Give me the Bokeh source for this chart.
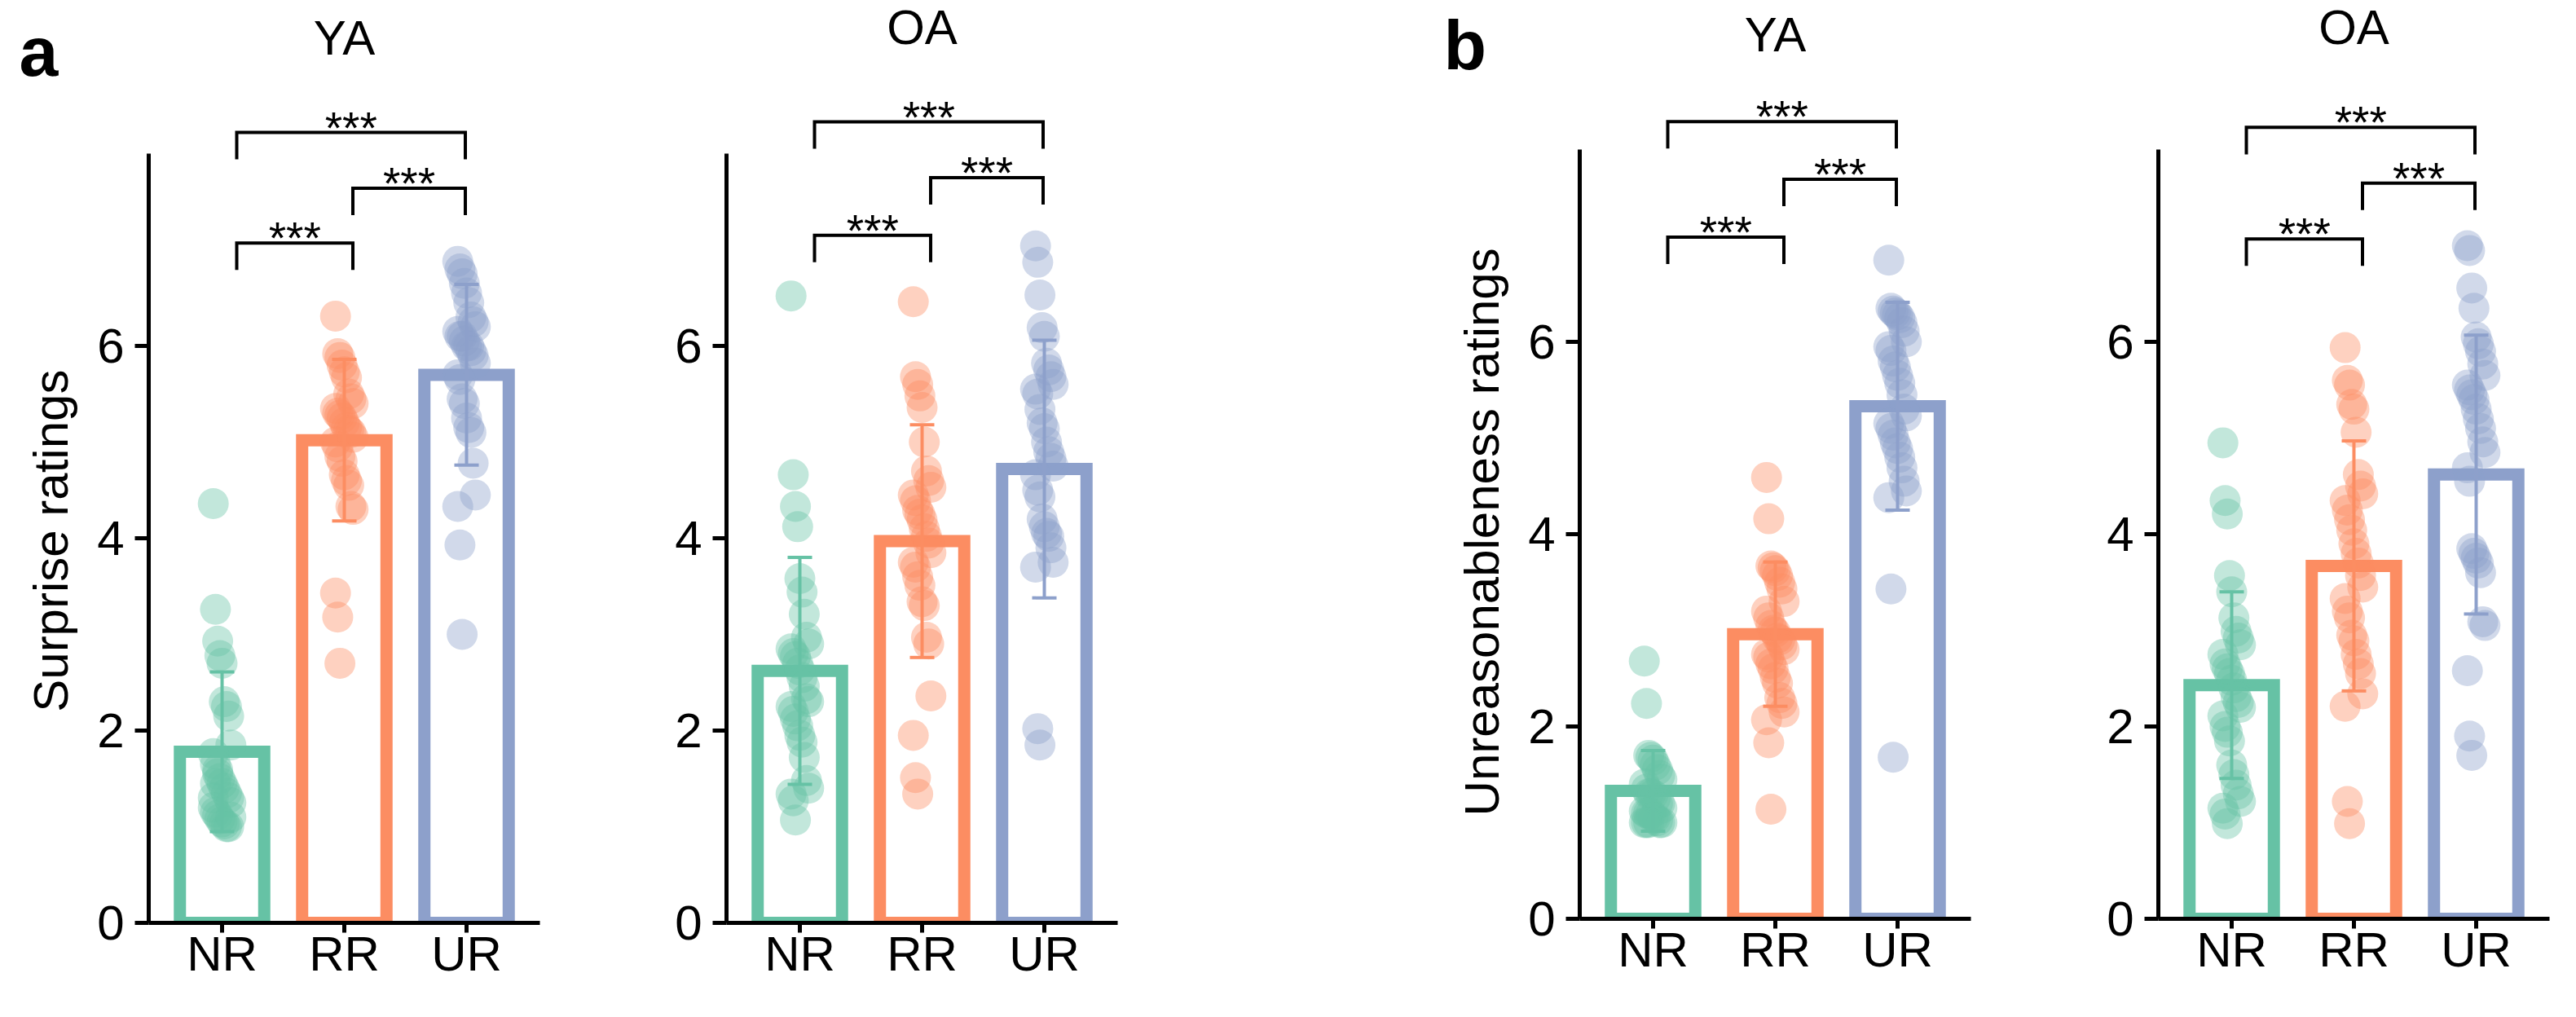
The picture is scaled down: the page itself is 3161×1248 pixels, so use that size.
from bokeh.plotting import figure
from bokeh.layouts import row, column
from bokeh.models import Range1d, FixedTicker
from bokeh.core.properties import value
from bokeh.embed import file_html
from bokeh.resources import INLINE

categories = ["NR", "RR", "UR"]
colors = ["#66c2a5", "#fc8d62", "#8da0cb"]
y_ticks = [0, 2, 4, 6]
panel_letters = ["a", "b"]
panel_titles = ["YA", "OA", "YA", "OA"]
y_labels = ["Surprise ratings", "Unreasonableness ratings"]

# ---- panel a: Surprise ratings ----
a_ya_nr = [4.36, 3.26, 2.93, 2.78, 2.70, 2.30, 2.25, 2.15, 1.85, 1.76, 1.65, 1.59, 1.50, 1.45, 1.40,
           1.35, 1.30, 1.25, 1.20, 1.15, 1.12, 1.08, 1.05, 1.03, 1.00, 1.00, 1.10, 1.30, 1.45, 1.55]
a_ya_rr = [6.31, 5.92, 5.88, 5.80, 5.73, 5.67, 5.50, 5.45, 5.40, 5.35, 5.30, 5.28, 5.25, 5.20, 5.15,
           5.12, 5.10, 5.05, 5.00, 4.95, 4.85, 4.80, 4.66, 4.60, 4.55, 4.33, 4.30, 3.43, 3.18, 2.70]
a_ya_ur = [6.88, 6.80, 6.75, 6.65, 6.55, 6.45, 6.30, 6.25, 6.20, 6.15, 6.10, 6.10, 6.05, 6.00, 6.00,
           5.95, 5.90, 5.82, 5.70, 5.65, 5.45, 5.40, 5.25, 5.15, 5.10, 4.78, 4.45, 4.33, 3.93, 3.00]
a_ya_means = [1.78, 5.02, 5.70]
a_ya_sd = [0.83, 0.84, 0.94]
a_ya_brackets = [7.07, 7.64, 8.22]

a_oa_nr = [6.52, 4.66, 4.33, 4.12, 3.58, 3.44, 3.21, 2.97, 2.90, 2.85, 2.80, 2.77, 2.70, 2.63, 2.55,
           2.46, 2.33, 2.30, 2.25, 2.20, 2.12, 2.05, 1.95, 1.88, 1.72, 1.48, 1.40, 1.34, 1.27, 1.07]
a_oa_rr = [6.46, 5.68, 5.60, 5.48, 5.36, 5.00, 4.70, 4.60, 4.53, 4.45, 4.39, 4.29, 4.25, 4.19, 4.10,
           4.02, 3.95, 3.85, 3.75, 3.70, 3.60, 3.51, 3.34, 3.30, 2.97, 2.90, 2.36, 1.95, 1.51, 1.34]
a_oa_ur = [7.04, 6.87, 6.53, 6.19, 6.10, 5.82, 5.75, 5.68, 5.60, 5.55, 5.50, 5.34, 5.20, 5.14, 5.00,
           4.90, 4.83, 4.75, 4.66, 4.50, 4.43, 4.20, 4.12, 4.05, 4.02, 3.90, 3.75, 3.70, 2.02, 1.85]
a_oa_means = [2.62, 3.97, 4.72]
a_oa_sd = [1.18, 1.21, 1.34]
a_oa_brackets = [7.15, 7.75, 8.33]

# ---- panel b: Unreasonableness ratings ----
b_ya_nr = [2.68, 2.24, 1.70, 1.68, 1.65, 1.60, 1.55, 1.49, 1.45, 1.40, 1.35, 1.30, 1.30, 1.29, 1.25,
           1.20, 1.20, 1.15, 1.12, 1.10, 1.10, 1.09, 1.05, 1.05, 1.02, 1.00, 1.00, 1.00, 1.00, 1.00]
b_ya_rr = [4.59, 4.16, 3.67, 3.65, 3.62, 3.57, 3.50, 3.43, 3.30, 3.20, 3.13, 3.05, 3.00, 2.98, 2.92,
           2.90, 2.85, 2.80, 2.75, 2.72, 2.65, 2.60, 2.51, 2.45, 2.30, 2.24, 2.15, 2.07, 1.83, 1.14]
b_ya_ur = [6.85, 6.35, 6.32, 6.30, 6.28, 6.25, 6.20, 6.11, 6.00, 5.95, 5.91, 5.80, 5.74, 5.65, 5.57,
           5.45, 5.30, 5.23, 5.15, 5.10, 5.03, 4.95, 4.89, 4.80, 4.69, 4.55, 4.45, 4.38, 3.43, 1.68]
b_ya_means = [1.33, 2.96, 5.33]
b_ya_sd = [0.42, 0.75, 1.08]
b_ya_brackets = [7.09, 7.69, 8.29]

b_oa_nr = [4.95, 4.35, 4.21, 3.57, 3.40, 3.13, 2.99, 2.92, 2.85, 2.75, 2.65, 2.60, 2.55, 2.48, 2.40,
           2.31, 2.25, 2.20, 2.11, 2.00, 1.94, 1.85, 1.60, 1.50, 1.39, 1.30, 1.22, 1.15, 1.09, 0.99]
b_oa_rr = [5.94, 5.60, 5.55, 5.35, 5.30, 5.06, 4.62, 4.50, 4.42, 4.35, 4.25, 4.15, 4.04, 3.90, 3.80,
           3.70, 3.57, 3.45, 3.33, 3.20, 3.13, 2.95, 2.89, 2.75, 2.65, 2.55, 2.34, 2.21, 1.22, 0.99]
b_oa_ur = [7.00, 6.95, 6.56, 6.35, 6.05, 5.98, 5.90, 5.77, 5.65, 5.55, 5.50, 5.45, 5.40, 5.30, 5.20,
           5.10, 4.96, 4.85, 4.69, 4.55, 3.85, 3.80, 3.75, 3.70, 3.60, 3.09, 3.05, 2.58, 1.90, 1.70]
b_oa_means = [2.43, 3.67, 4.62]
b_oa_sd = [0.97, 1.30, 1.45]
b_oa_brackets = [7.07, 7.65, 8.23]

# significance brackets: category pairs (low, middle, top) and their labels
bracket_pairs = [(0, 1), (1, 2), (0, 2)]
bracket_labels = ["***", "***", "***"]

FONT = "Liberation Sans"
TOTAL_W = 3145
STRIP_H = 111
PX_PER_UNIT = 118.0
FRAME_W = 480
NBSP = "\u00a0"

# (border_left, border_right, frame_height, border_bottom, label padding) for the four panels
geom = [(182, 98, 1021, 100, 5), (131, 129, 1021, 100, 0),
        (438, 102, 1016, 105, 4), (128, 17, 1016, 105, 0)]


def make_panel(groups, means, sds, brackets, ylabel, bl, br, fh, bb, pad):
    y1 = fh / PX_PER_UNIT
    p = figure(title=None, frame_width=FRAME_W, frame_height=fh,
               x_range=Range1d(-0.6, 2.6), y_range=Range1d(0, y1),
               output_backend="svg", toolbar_location=None,
               min_border_left=bl, min_border_right=br, min_border_top=0, min_border_bottom=bb)
    p.outline_line_color = None
    p.grid.visible = False
    p.background_fill_color = "white"

    xs = [0, 1, 2]
    p.vbar(x=xs, top=means, bottom=0, width=0.69, fill_color="white",
           line_color=colors, line_width=15, line_join="miter")

    for i, vals in enumerate(groups):
        jx = [i + ((k * 37) % 9 - 4) * 0.018 for k in range(len(vals))]
        p.scatter(jx, vals, size=38, fill_color=colors[i], fill_alpha=0.4, line_color=None)

    lo = [m - s for m, s in zip(means, sds)]
    hi = [m + s for m, s in zip(means, sds)]
    cap = 0.1
    p.segment(x0=xs, y0=lo, x1=xs, y1=hi, line_color=colors, line_width=4)
    p.segment(x0=[x - cap for x in xs], y0=hi, x1=[x + cap for x in xs], y1=hi,
              line_color=colors, line_width=4)
    p.segment(x0=[x - cap for x in xs], y0=lo, x1=[x + cap for x in xs], y1=lo,
              line_color=colors, line_width=4)

    offs = [0.12, 0.07, -0.01]
    drop = 0.28
    bxs, bys, sx, sy = [], [], [], []
    for (i, j), top in zip(bracket_pairs, brackets):
        xl = i + offs[i]
        xr = j + offs[j]
        bxs.append([xl, xl, xr, xr])
        bys.append([top - drop, top, top, top - drop])
        sx.append((xl + xr) / 2)
        sy.append(top + 0.05)
    p.multi_line(bxs, bys, line_color="black", line_width=4, line_join="miter")
    p.text(x=sx, y=sy, text=bracket_labels, text_align="center", text_baseline="middle",
           text_font=value(FONT), text_font_size="55px", text_color="black")

    xa = p.xaxis[0]
    xa.ticker = FixedTicker(ticks=xs)
    xa.major_label_overrides = {0: categories[0], 1: categories[1], 2: categories[2]}
    xa.minor_tick_line_color = None
    xa.minor_tick_out = 0
    xa.major_tick_in = 0
    xa.major_tick_out = 12
    xa.axis_line_width = 5
    xa.major_tick_line_width = 5
    xa.major_label_standoff = -8
    xa.major_label_text_font = FONT
    xa.major_label_text_font_size = "60px"
    xa.major_label_text_color = "black"

    ya = p.yaxis[0]
    ya.ticker = FixedTicker(ticks=y_ticks)
    ya.bounds = (0, 8)
    ya.minor_tick_line_color = None
    ya.minor_tick_out = 0
    ya.major_tick_in = 0
    ya.major_tick_out = 17
    ya.axis_line_width = 5
    ya.major_tick_line_width = 5
    ya.major_label_standoff = 13
    ya.major_label_text_font = FONT
    ya.major_label_text_font_size = "60px"
    ya.major_label_text_color = "black"
    if ylabel:
        # trailing no-break spaces centre the label on the 0-8 axis line rather than the frame
        ya.axis_label = ylabel + NBSP * pad
        ya.axis_label_text_font = FONT
        ya.axis_label_text_font_size = "60px"
        ya.axis_label_text_font_style = "normal"
        ya.axis_label_text_color = "black"
        ya.axis_label_standoff = 20
    return p


panels_data = [
    ([a_ya_nr, a_ya_rr, a_ya_ur], a_ya_means, a_ya_sd, a_ya_brackets, y_labels[0]),
    ([a_oa_nr, a_oa_rr, a_oa_ur], a_oa_means, a_oa_sd, a_oa_brackets, None),
    ([b_ya_nr, b_ya_rr, b_ya_ur], b_ya_means, b_ya_sd, b_ya_brackets, y_labels[1]),
    ([b_oa_nr, b_oa_rr, b_oa_ur], b_oa_means, b_oa_sd, b_oa_brackets, None),
]

figs = []
title_x = []
left = 0
for (groups, means, sds, brackets, ylabel), (bl, br, fh, bb, pad) in zip(panels_data, geom):
    figs.append(make_panel(groups, means, sds, brackets, ylabel, bl, br, fh, bb, pad))
    title_x.append(left + bl + FRAME_W / 2)
    left += bl + FRAME_W + br

# header strip with panel letters and panel titles (pixel coordinates, y downwards)
strip = figure(title=None, width=TOTAL_W, height=STRIP_H, x_range=Range1d(0, TOTAL_W),
               y_range=Range1d(STRIP_H, 0), output_backend="svg", toolbar_location=None,
               x_axis_location=None, y_axis_location=None,
               min_border_left=0, min_border_right=0, min_border_top=0, min_border_bottom=0)
strip.outline_line_color = None
strip.grid.visible = False
strip.text(x=title_x, y=[46, 33, 42, 33], text=panel_titles, text_align="center",
           text_baseline="middle", text_font=value(FONT), text_font_size="60px", text_color="black")
strip.text(x=[23, 1771], y=[62, 54], text=panel_letters, text_align="left",
           text_baseline="middle", text_font=value(FONT), text_font_size="86px",
           text_font_style="bold", text_color="black")

layout = column(strip, row(*figs))
open("out.html", "w").write(file_html(layout, INLINE))
